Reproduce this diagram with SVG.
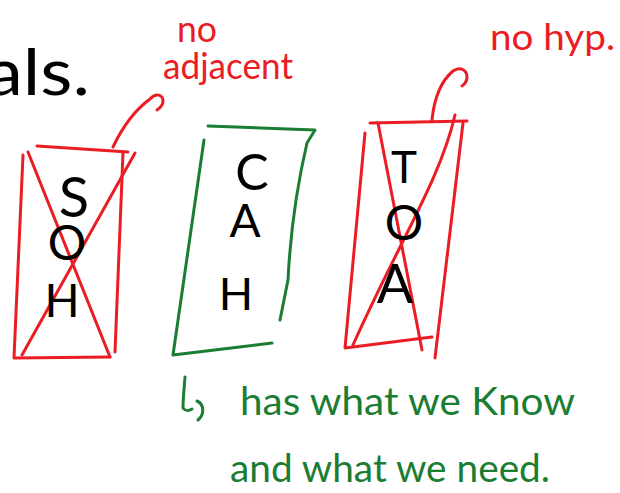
<svg xmlns="http://www.w3.org/2000/svg" width="620" height="493" viewBox="0 0 620 493">
<style>
.r{fill:none;stroke:#ec1c24;stroke-width:3;stroke-linecap:round;stroke-linejoin:round}
.g{fill:none;stroke:#1b7d32;stroke-width:3;stroke-linecap:round;stroke-linejoin:round}
.t{font-family:Lato,"Liberation Sans",sans-serif;font-weight:400}
.k{fill:#000}
.rt{fill:#ec1c24}
.gt{fill:#1b7d32}
</style>
<rect width="620" height="493" fill="#fff"/>
<text class="t k" x="-14" y="95" font-size="64" textLength="104" lengthAdjust="spacingAndGlyphs">als.</text>
<g id="label-no-adjacent">
<text class="t rt" x="177" y="42" font-size="36" textLength="40" lengthAdjust="spacingAndGlyphs">no</text>
<text class="t rt" x="163" y="79" font-size="36" textLength="130" lengthAdjust="spacingAndGlyphs">adjacent</text>
</g>
<g id="label-no-hyp">
<text class="t rt" x="490" y="50" font-size="36" textLength="125" lengthAdjust="spacingAndGlyphs">no hyp.</text>
</g>
<g id="connectors">
<path class="r" d="M113,147 C122,128 135,110 150,99 C156,92 163,95 163,101 C163,105 160,108 157,110"/>
<path class="r" d="M432,120 C434,100 440,82 453,71 C460,66 467,70 467,77 C467,81 465,84 462,86"/>
<path class="g" d="M185,377 C184,390 183,400 183,408 C185,411 189,411 192,409"/>
<path class="g" d="M197,401 C204,404 205,414 198,420"/>
</g>
<g id="box-soh">
<path class="r" d="M37,146 L128,152"/>
<path class="r" d="M23,155 L14,358 L110,357"/>
<path class="r" d="M123,153 L115,352"/>
<path class="r" d="M28,152 L110,357"/>
<path class="r" d="M135,153 L22,355"/>
<text class="t k" x="74" y="217" font-size="56" text-anchor="middle">S</text>
<text class="t k" x="67" y="260" font-size="48" text-anchor="middle">O</text>
<text class="t k" x="62" y="317" font-size="46" text-anchor="middle">H</text>
</g>
<g id="box-cah">
<path class="g" d="M208,126 L315,130 L307,143 C296,190 290,240 288,280 L280,320"/>
<path class="g" d="M204,140 L173,355 L272,343"/>
<text class="t k" x="252" y="190" font-size="50" text-anchor="middle">C</text>
<text class="t k" x="245" y="237" font-size="46" text-anchor="middle">A</text>
<text class="t k" x="236" y="310" font-size="45" text-anchor="middle">H</text>
</g>
<g id="box-toa">
<path class="r" d="M370,123 L467,121"/>
<path class="r" d="M365,133 L345,348 L432,337"/>
<path class="r" d="M463,123 L435,358"/>
<path class="r" d="M378,123 L422,350"/>
<path class="r" d="M455,115 C440,180 400,240 353,345"/>
<text class="t k" x="404" y="183" font-size="44" text-anchor="middle">T</text>
<text class="t k" x="404" y="240" font-size="48" text-anchor="middle">O</text>
<text class="t k" x="395" y="303" font-size="54" text-anchor="middle">A</text>
</g>
<g id="note">
<text class="t gt" x="240" y="415" font-size="38" textLength="335" lengthAdjust="spacingAndGlyphs">has what we Know</text>
<text class="t gt" x="230" y="482" font-size="38" textLength="320" lengthAdjust="spacingAndGlyphs">and what we need.</text>
</g>
</svg>
